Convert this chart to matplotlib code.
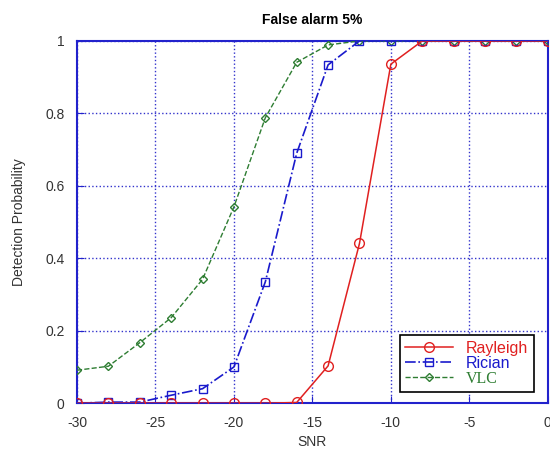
import numpy as np
import matplotlib
matplotlib.use("Agg")
from matplotlib import pyplot as plt

plt.rcParams['font.family'] = ['Liberation Sans', 'DejaVu Sans']
plt.rcParams['axes.unicode_minus'] = False

snr = [-30, -28, -26, -24, -22, -20, -18, -16, -14, -12, -10, -8, -6, -4, -2, 0]
rayleigh = [0, 0, 0, 0, 0, 0, 0, 0.002, 0.103, 0.441, 0.936, 1, 1, 1, 1, 1]
rician = [0, 0.003, 0.003, 0.022, 0.04, 0.1, 0.335, 0.69, 0.934, 1, 1, 1, 1, 1, 1, 1]
vlc = [0.091, 0.102, 0.167, 0.236, 0.342, 0.542, 0.788, 0.941, 0.989, 1, 1, 1, 1, 1, 1, 1]

fig, ax = plt.subplots(figsize=(5.5, 4.5), dpi=100)
plt.subplots_adjust(left=0.14, right=0.996, top=0.909, bottom=0.104)

ax.plot(snr, vlc, '--', color='#2e7d32', marker='D', ms=4, mfc='none', lw=1, zorder=3, label='VLC')
ax.plot(snr, rician, '-.', color='#1a1acc', marker='s', ms=6, mfc='none', lw=1.2, zorder=4, label='Rician')
ax.plot(snr, rayleigh, '-', color='#e02020', marker='o', ms=7, mfc='none', lw=1.1, zorder=5, label='Rayleigh')

ax.set(xlim=(-30, 0), ylim=(0, 1))
ax.set_xticks(np.arange(-30, 1, 5))
ax.set_yticks([0, 0.2, 0.4, 0.6, 0.8, 1])
ax.set_yticklabels(['0', '0.2', '0.4', '0.6', '0.8', '1'])
ax.grid(True, color='#3333cc', linestyle=':', linewidth=1)
for s in ax.spines.values():
    s.set_color('#2222cc')
    s.set_linewidth(1.5)
ax.tick_params(direction='in', colors='#2222cc', labelcolor='#333333', labelsize=10, pad=9, length=5)

ax.set_title('False alarm 5%', fontsize=10, fontweight='bold', pad=12)
ax.set_xlabel('SNR', fontsize=10, color='#333333', labelpad=4)
ax.set_ylabel('Detection Probability', fontsize=10, color='#333333', labelpad=14)

h, l = ax.get_legend_handles_labels()
leg = ax.legend(h[::-1], l[::-1], loc='lower right', bbox_to_anchor=(0.97, 0.03),
                borderaxespad=0, fancybox=False, edgecolor='black', framealpha=1,
                handlelength=3, borderpad=0.35, labelspacing=0.0, fontsize=11.5)
leg.get_frame().set_linewidth(1.2)
for t, c in zip(leg.get_texts(), ['#e02020', '#1a1acc', '#2e7d32']):
    t.set_color(c)
leg.get_texts()[2].set_family(['Liberation Serif', 'DejaVu Serif'])

fig.savefig('out.png', dpi=100)
